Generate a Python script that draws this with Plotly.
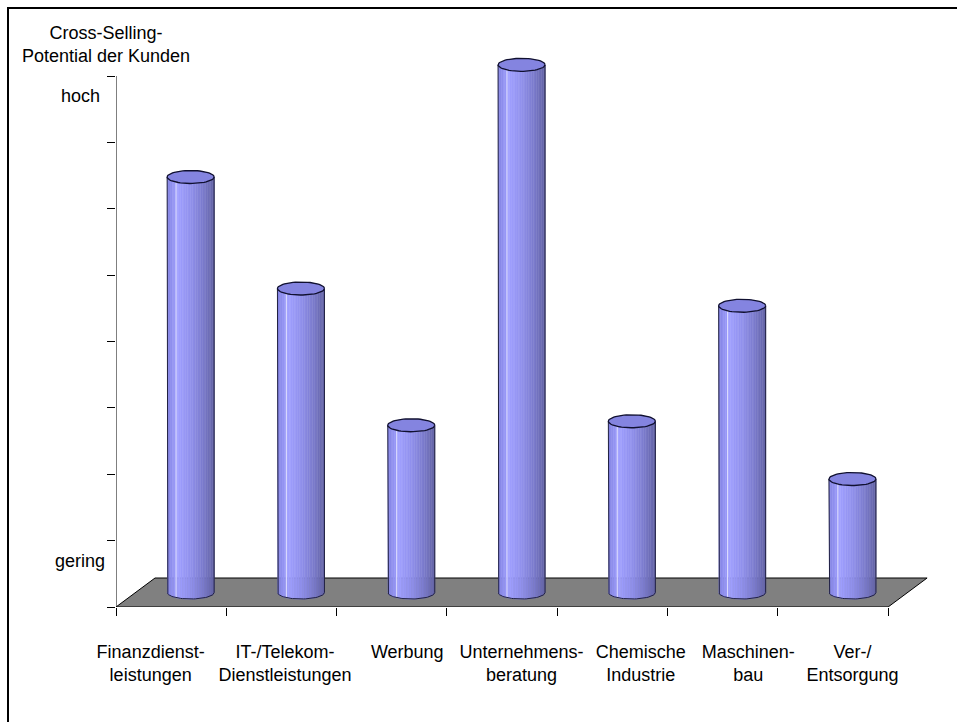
import numpy as np
import plotly.graph_objects as go

# ---------------- data ----------------
categories = [
    "Finanzdienst-<br>leistungen",
    "IT-/Telekom-<br>Dienstleistungen",
    "Werbung",
    "Unternehmens-<br>beratung",
    "Chemische<br>Industrie",
    "Maschinen-<br>bau",
    "Ver-/<br>Entsorgung",
]
values = [6.26, 4.58, 2.52, 7.95, 2.58, 4.32, 1.71]
y_tick_values = [0, 1, 2, 3, 4, 5, 6, 7, 8]
y_label_low = "gering"
y_label_high = "hoch"
axis_title = "Cross-Selling-<br>Potential der Kunden"

# ---------------- style / geometry ----------------
W, H = 957, 722
ML, MR, MT, MB = 116, 17, 40, 115
PX_PER_X = 110.3
PX_PER_Y = 66.375
plot_w = W - ML - MR
plot_h = H - MT - MB
XMIN = -0.5
XMAX = XMIN + plot_w / PX_PER_X
YMAX = plot_h / PX_PER_Y

DX = 39 / PX_PER_X      # depth offset (x)
DY = 29 / PX_PER_Y      # depth offset (y)
RX = 23.5 / PX_PER_X    # cylinder radius (x)
RY = 6.5 / PX_PER_Y     # ellipse half height (y)
FONT = "Liberation Sans, Arial, sans-serif"
label_nudge_px = [-40, -16, -4, 0, 9, 6, 0]   # label placement style

n = len(values)
xs = np.arange(n)
cx = xs + DX / 2
base = DY / 2


def body_color(u):
    # u in [-1, 1] across the cylinder; lighter on the left, darker to the right
    pts = [(-1.0, (130, 130, 226)), (-0.55, (160, 160, 255)), (0.0, (144, 144, 236)),
           (0.5, (124, 124, 206)), (1.0, (98, 98, 164))]
    for (u0, c0), (u1, c1) in zip(pts[:-1], pts[1:]):
        if u0 <= u <= u1:
            t = (u - u0) / (u1 - u0)
            c = [round(a + (b - a) * t) for a, b in zip(c0, c1)]
            return "rgb(%d,%d,%d)" % tuple(c)
    return "rgb(98,98,164)"


fig = go.Figure()

# floor
fx = [XMIN, n - 0.5, n - 0.5 + DX, XMIN + DX, XMIN]
fy = [0, 0, DY, DY, 0]
fig.add_trace(go.Scatter(x=fx, y=fy, mode="lines", fill="toself",
                         fillcolor="#808080", line=dict(color="black", width=1),
                         hoverinfo="skip"))

# cylinder bodies as shaded stripes
N = 28
edges = np.linspace(-1, 1, N + 1)
for k in range(N):
    u0, u1 = edges[k], edges[k + 1]
    uu = np.linspace(u0, u1, 4)
    px, py = [], []
    for i in range(n):
        top = base + values[i]
        for u in uu:
            px.append(cx[i] + RX * u)
            py.append(base - RY * np.sqrt(max(0.0, 1 - u * u)))
        px += [cx[i] + RX * u1, cx[i] + RX * u0, None]
        py += [top, top, None]
    col = body_color((u0 + u1) / 2)
    fig.add_trace(go.Scatter(x=px, y=py, mode="lines", fill="toself",
                             fillcolor=col, line=dict(color=col, width=0.8),
                             hoverinfo="skip"))

# highlight lines
hx, hy = [], []
for i in range(n):
    for u in (-0.62,):
        hx += [cx[i] + RX * u, cx[i] + RX * u, None]
        hy += [base - RY * np.sqrt(1 - u * u), base + values[i], None]
fig.add_trace(go.Scatter(x=hx, y=hy, mode="lines",
                         line=dict(color="rgba(235,235,255,0.85)", width=1),
                         hoverinfo="skip"))

# outlines (sides + bottom arc)
ox, oy = [], []
theta = np.linspace(np.pi, 2 * np.pi, 40)
for i in range(n):
    top = base + values[i]
    ox += [cx[i] - RX]
    oy += [top]
    ox += list(cx[i] + RX * np.cos(theta))
    oy += list(base + RY * np.sin(theta))
    ox += [cx[i] + RX, None]
    oy += [top, None]
fig.add_trace(go.Scatter(x=ox, y=oy, mode="lines",
                         line=dict(color="#202040", width=1), hoverinfo="skip"))

# top ellipses
tx, ty = [], []
th = np.linspace(0, 2 * np.pi, 60)
for i in range(n):
    top = base + values[i]
    tx += list(cx[i] + RX * np.cos(th)) + [None]
    ty += list(top + RY * np.sin(th)) + [None]
fig.add_trace(go.Scatter(x=tx, y=ty, mode="lines", fill="toself",
                         fillcolor="rgb(132,132,224)",
                         line=dict(color="#101030", width=1.3), hoverinfo="skip"))

# invisible trace for the label axis
fig.add_trace(go.Scatter(x=[0], y=[0], xaxis="x2", mode="markers",
                         marker=dict(opacity=0), hoverinfo="skip"))

label_pos = [c + d / PX_PER_X for c, d in zip(cx, label_nudge_px)]

fig.update_layout(
    width=W, height=H,
    margin=dict(l=ML, r=MR, t=MT, b=MB, pad=0, autoexpand=False),
    paper_bgcolor="white", plot_bgcolor="white",
    showlegend=False,
    font=dict(family=FONT, size=18, color="black"),
    xaxis=dict(range=[XMIN, XMAX], tickvals=list(xs - 0.5) + [n - 0.5],
               ticks="outside", ticklen=8, tickcolor="black", tickwidth=1,
               showticklabels=False, showgrid=False, zeroline=False,
               showline=False, fixedrange=True, automargin=False),
    xaxis2=dict(range=[XMIN, XMAX], overlaying="x", anchor="y", side="bottom",
                tickvals=label_pos, ticktext=categories, ticks="",
                showgrid=False, zeroline=False, showline=False,
                ticklabelstandoff=32, tickangle=0, automargin=False,
                autorange=False, fixedrange=True,
                tickfont=dict(family=FONT, size=18, color="black")),
    yaxis=dict(range=[0, YMAX], tickvals=y_tick_values, ticks="outside",
               ticklen=8, tickcolor="black", tickwidth=1,
               showticklabels=False, showgrid=False, zeroline=False,
               showline=False, fixedrange=True, automargin=False),
)

# y axis line
fig.add_shape(type="line", xref="x", yref="y", x0=XMIN, x1=XMIN,
              y0=y_tick_values[0], y1=y_tick_values[-1],
              line=dict(color="black", width=1))

# outer border
def pxx(p):
    return (p - ML) / plot_w


def pxy(p):
    return (H - MB - p) / plot_h


fig.add_shape(type="rect", xref="paper", yref="paper",
              x0=pxx(8), x1=pxx(W + 10), y0=pxy(8), y1=pxy(H + 10),
              line=dict(color="black", width=2), fillcolor="rgba(0,0,0,0)")

fig.add_annotation(text=axis_title, xref="paper", yref="paper",
                   x=pxx(106), y=pxy(21), xanchor="center", yanchor="top",
                   showarrow=False, align="center",
                   font=dict(family=FONT, size=18, color="black"))
fig.add_annotation(text=y_label_high, xref="paper", yref="y",
                   x=0, y=y_tick_values[-1], xanchor="right", yanchor="top",
                   xshift=-14, yshift=-8, showarrow=False,
                   font=dict(family=FONT, size=18, color="black"))
fig.add_annotation(text=y_label_low, xref="paper", yref="y",
                   x=0, y=y_tick_values[0], xanchor="right", yanchor="bottom",
                   xshift=-9, yshift=34, showarrow=False,
                   font=dict(family=FONT, size=18, color="black"))

fig.write_html("out.html")
